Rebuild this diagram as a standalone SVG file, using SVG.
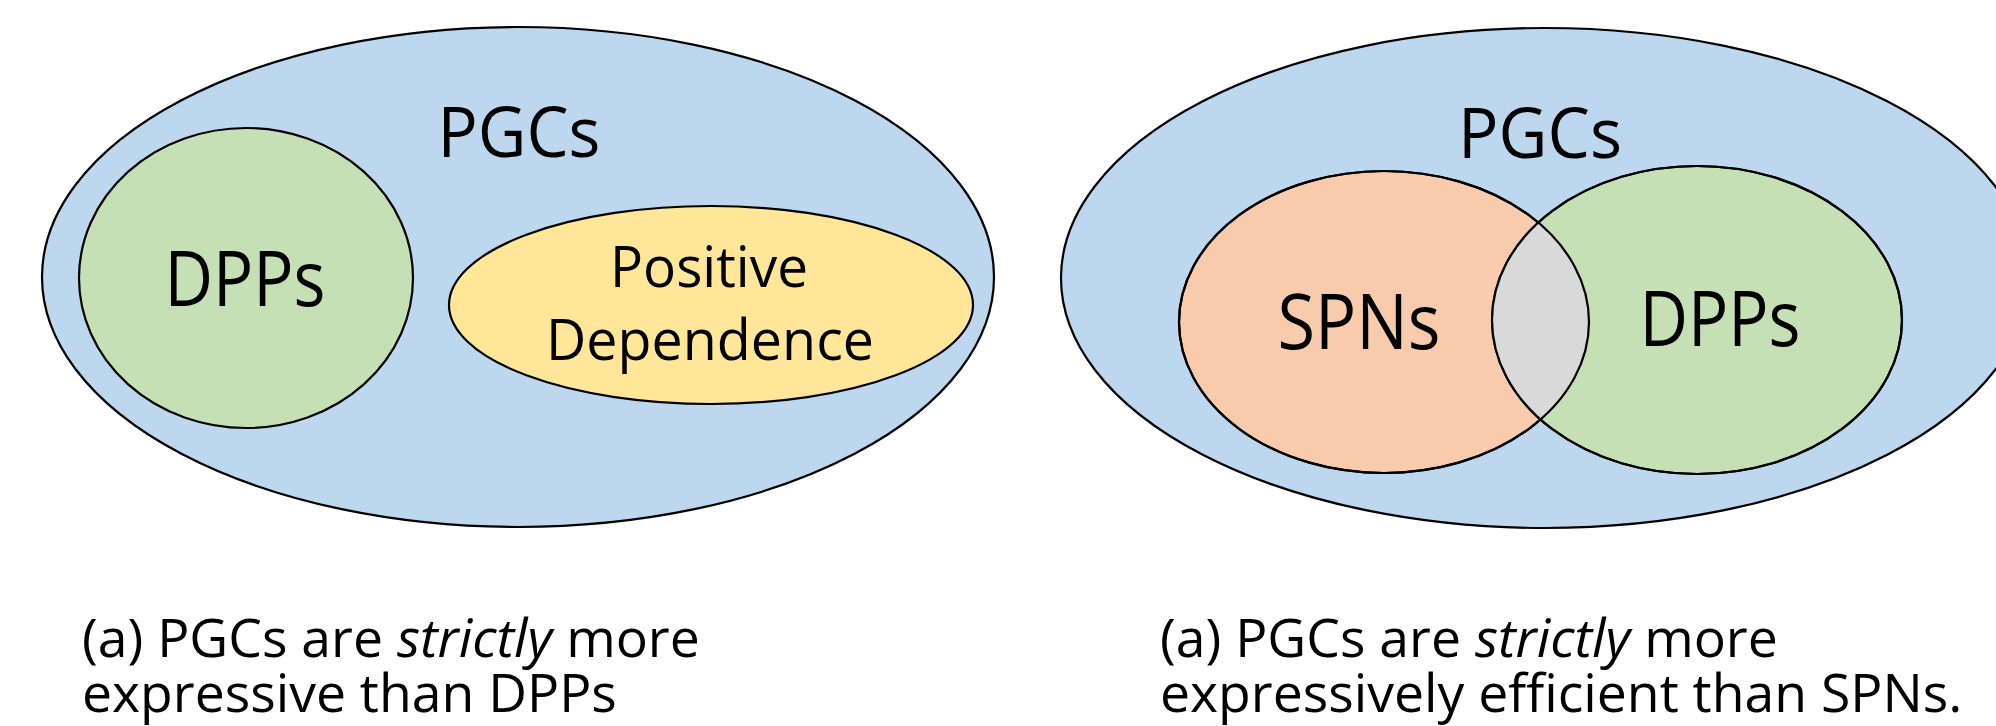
<svg xmlns="http://www.w3.org/2000/svg" width="1996" height="726" viewBox="0 0 1996 726">
  <style>
    .shape { stroke: #000; stroke-width: 2.2; }
    .outline { fill: none; stroke: #000; stroke-width: 2.2; }
    .pgc { fill: #bdd7ee; }
    .dpp { fill: #c5e0b4; }
    .pos { fill: #ffe699; }
    .spn { fill: #f8cbad; }
    .both { fill: #d9d9d9; }
    .label { font-family: "Open Sans", "Noto Sans", sans-serif; fill: #000; text-anchor: middle; }
    .caption { font-family: "Open Sans", "Noto Sans", sans-serif; font-size: 53.5px; fill: #000; }
  </style>
  <defs>
    <clipPath id="spn-clip">
      <ellipse cx="1384" cy="322" rx="205" ry="151"/>
    </clipPath>
  </defs>

  <!-- Left panel: PGCs containing DPPs and positive dependence -->
  <g id="pgcs-left">
    <ellipse class="shape pgc" cx="518" cy="277" rx="476" ry="250"/>
    <text class="label" x="519" y="157" font-size="70" textLength="163" lengthAdjust="spacingAndGlyphs">PGCs</text>
  </g>
  <g id="dpps-left">
    <ellipse class="shape dpp" cx="246" cy="278" rx="167" ry="150"/>
    <text class="label" x="245" y="306" font-size="76" textLength="161" lengthAdjust="spacingAndGlyphs">DPPs</text>
  </g>
  <g id="positive-dependence">
    <ellipse class="shape pos" cx="711" cy="305" rx="262" ry="99"/>
    <text class="label" x="709" y="287" font-size="56" textLength="198" lengthAdjust="spacingAndGlyphs">Positive</text>
    <text class="label" x="710" y="360" font-size="56" textLength="328" lengthAdjust="spacingAndGlyphs">Dependence</text>
  </g>

  <!-- Right panel: PGCs containing overlapping SPNs and DPPs -->
  <g id="pgcs-right">
    <ellipse class="shape pgc" cx="1545" cy="278" rx="484" ry="250"/>
    <text class="label" x="1540" y="158" font-size="70" textLength="164" lengthAdjust="spacingAndGlyphs">PGCs</text>
  </g>
  <g id="spns">
    <ellipse class="shape spn" cx="1384" cy="322" rx="205" ry="151"/>
    <text class="label" x="1359" y="349" font-size="76" textLength="163" lengthAdjust="spacingAndGlyphs">SPNs</text>
  </g>
  <g id="dpps-right">
    <ellipse class="shape dpp" cx="1697" cy="320" rx="205" ry="154"/>
    <text class="label" x="1720" y="346" font-size="76" textLength="161" lengthAdjust="spacingAndGlyphs">DPPs</text>
  </g>
  <g id="spns-dpps-overlap">
    <ellipse class="both" cx="1697" cy="320" rx="205" ry="154" clip-path="url(#spn-clip)"/>
    <ellipse class="outline" cx="1384" cy="322" rx="205" ry="151"/>
    <ellipse class="outline" cx="1697" cy="320" rx="205" ry="154"/>
  </g>

  <!-- Captions -->
  <g id="caption-left">
    <text class="caption" x="82" y="657">(a) PGCs are <tspan font-style="italic">strictly</tspan> more</text>
    <text class="caption" x="82" y="712">expressive than DPPs</text>
  </g>
  <g id="caption-right">
    <text class="caption" x="1160" y="657">(a) PGCs are <tspan font-style="italic">strictly</tspan> more</text>
    <text class="caption" x="1160" y="712">expressively efficient than SPNs.</text>
  </g>
</svg>
